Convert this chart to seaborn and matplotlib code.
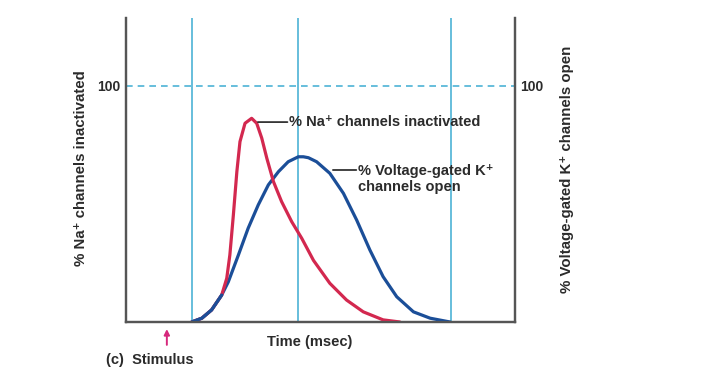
import pandas as pd
import seaborn as sns
import matplotlib.pyplot as plt

# values (time in arbitrary units, % on y)
na_time = [1.69, 1.95, 2.20, 2.46, 2.59, 2.67, 2.76, 2.85, 2.93, 3.06, 3.23, 3.36,
           3.49, 3.62, 3.79, 4.00, 4.26, 4.52, 4.82, 5.24, 5.67, 6.10, 6.61, 7.04]
na_pct = [0, 1.6, 5.1, 11.4, 18.5, 28.4, 45.3, 63.7, 76.4, 84.2, 86.3, 84.2,
          77.9, 69.4, 59.5, 51.0, 42.5, 35.4, 26.1, 16.4, 9.3, 4.3, 0.9, 0]
k_time = [1.69, 1.95, 2.20, 2.46, 2.63, 2.89, 3.14, 3.40, 3.66, 3.92, 4.17, 4.43,
          4.56, 4.69, 4.90, 5.24, 5.59, 5.93, 6.27, 6.61, 6.96, 7.39, 7.82, 8.33]
k_pct = [0, 1.6, 5.1, 11.4, 17.0, 28.4, 39.7, 49.6, 58.1, 63.7, 67.9, 70.0,
         70.0, 69.6, 67.9, 63.0, 54.5, 43.2, 30.5, 19.2, 10.7, 4.3, 1.6, 0]
marker_times = [1.70, 4.42, 8.35]
stimulus_time = 1.05

sns.set_theme(style="white")
plt.rcParams['font.family'] = ['Liberation Sans', 'DejaVu Sans']
plt.rcParams['font.weight'] = 'bold'

RED = '#d3284f'
BLUE = '#1b4e98'
CYAN = '#4db3d6'
TXT = '#2b2b2b'
FS = 10.5

na = pd.DataFrame({'time': na_time, 'pct': na_pct})
k = pd.DataFrame({'time': k_time, 'pct': k_pct})

fig = plt.figure(figsize=(7.25, 3.83), dpi=100)
ax = fig.add_axes([0.1738, 0.1593, 0.5365, 0.7937])

for t in marker_times:
    ax.axvline(t, color=CYAN, lw=1.2, zorder=1)
ax.axhline(100, color=CYAN, lw=1.2, ls=(0, (4, 3)), zorder=1)

sns.lineplot(data=k, x='time', y='pct', color=BLUE, lw=2.3, ax=ax, zorder=3,
             solid_joinstyle='round', solid_capstyle='round')
sns.lineplot(data=na, x='time', y='pct', color=RED, lw=2.3, ax=ax, zorder=3,
             solid_joinstyle='round', solid_capstyle='round')
# the shared rising part is drawn in blue in the original
ax.plot(k_time[:4], k_pct[:4], color=BLUE, lw=2.3, zorder=4, solid_capstyle='round')

ax.set_xlim(0, 10)
ax.set_ylim(0, 128.8)
ax.set_xticks([])
ax.set_yticks([100])
ax.set_yticklabels(['100'], fontsize=10, fontweight='bold', color=TXT)
ax.tick_params(axis='y', length=0, pad=4)
ax.set_xlabel('')
ax.set_ylabel('% Na⁺ channels inactivated', fontsize=10.8, fontweight='bold', color=TXT)
ax.yaxis.set_label_coords(-0.098, 0.507)

ax2 = ax.twinx()
ax2.set_ylim(0, 128.8)
ax2.set_yticks([100])
ax2.set_yticklabels(['100'], fontsize=10, fontweight='bold', color=TXT)
ax2.tick_params(axis='y', length=0, pad=4)
ax2.set_ylabel('% Voltage-gated K⁺ channels open', fontsize=10.8, fontweight='bold',
               color=TXT)
ax2.yaxis.set_label_coords(1.116, 0.503)

for a in (ax, ax2):
    a.spines['top'].set_visible(False)
    for s in ('left', 'right', 'bottom'):
        a.spines[s].set_color('#555555')
        a.spines[s].set_linewidth(1.6)

# curve labels with short horizontal leaders
leader = dict(arrowstyle='-', color='#333333', lw=1.3, shrinkA=0, shrinkB=0)
ax.annotate('', xy=(3.39, 84.7), xytext=(4.15, 84.7), arrowprops=leader)
ax.text(4.19, 84.7, '% Na⁺ channels inactivated', fontsize=FS, fontweight='bold',
        color=TXT, va='center')
ax.annotate('', xy=(5.32, 64.4), xytext=(5.92, 64.4), arrowprops=leader)
ax.text(5.96, 60.6, '% Voltage-gated K⁺\nchannels open', fontsize=FS,
        fontweight='bold', color=TXT, va='center', linespacing=1.1)

fig.text(0.4276, 0.107, 'Time (msec)', fontsize=FS, fontweight='bold',
         color=TXT, ha='center', va='center')
fig.text(0.146, 0.060, '(c)  Stimulus', fontsize=FS, fontweight='bold',
         color=TXT, ha='left', va='center')
ax.annotate('', xy=(stimulus_time, -3.0), xytext=(stimulus_time, -9.7),
            xycoords='data', annotation_clip=False,
            arrowprops=dict(arrowstyle='-|>', color='#d6287c', lw=1.4,
                            mutation_scale=8, shrinkA=0, shrinkB=0))

fig.savefig('out.png', dpi=100)
